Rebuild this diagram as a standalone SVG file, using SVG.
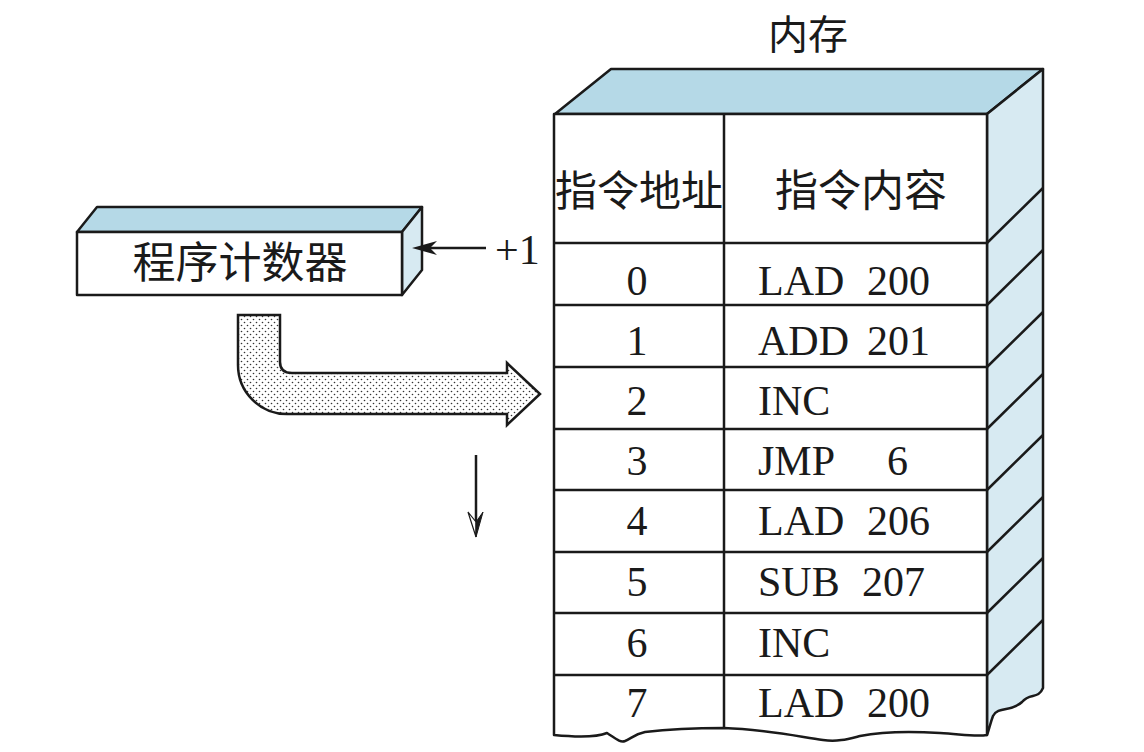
<svg xmlns="http://www.w3.org/2000/svg" width="1144" height="752" viewBox="0 0 1144 752">
<style>
.ln{stroke:#1a1a1a;stroke-width:2.5;fill:none;stroke-linejoin:round}
.top{fill:#b5d9e7;stroke:#1a1a1a;stroke-width:2.5;stroke-linejoin:round}
.side{fill:#d7eaf2;stroke:#1a1a1a;stroke-width:2.5;stroke-linejoin:round}
.front{fill:#fff;stroke:#1a1a1a;stroke-width:2.5;stroke-linejoin:round}
.cjk{font-family:"Noto Sans CJK SC","Noto Sans",sans-serif;fill:#1a1a1a}
.rom{font-family:"Liberation Serif","Times New Roman",serif;font-size:42px;fill:#1a1a1a}
.num{text-anchor:middle}
</style>
<defs>
<pattern id="dots" width="6" height="6" patternUnits="userSpaceOnUse">
<rect width="6" height="6" fill="#fff"/>
<circle cx="1.5" cy="1.5" r="0.8" fill="#333"/>
<circle cx="4.5" cy="4.5" r="0.8" fill="#333"/>
</pattern>
</defs>
<rect width="1144" height="752" fill="#fff"/>

<g id="pc">
<polygon class="top" points="77,232 97,207 422,207 402,232"/>
<polygon class="side" points="402,232 422,207 422,270 402,295"/>
<rect class="front" x="77" y="232" width="325" height="63"/>
<text class="cjk" x="240" y="278" font-size="43" text-anchor="middle">程序计数器</text>
</g>

<g id="memory">
<text class="cjk" x="808" y="49" font-size="40" text-anchor="middle">内存</text>
<polygon class="top" points="555,114 611,69 1043,69 987,114"/>
<path class="side" d="M987,114 L1043,69 L1043,688 C1038,700 1030,692 1022,702 C1012,712 998,706 993,716 C990,724 989,730 987,735 Z"/>
<path class="front" d="M554,114 L987,114 L987,735 C975,737 960,734 940,733 C910,731 880,732 860,736 C848,739 838,742 823,740 C790,735 760,729 724,728 C700,728 670,729 645,732 C635,734 632,738 625,741 C620,743 615,738 607,733 C595,738 575,737 554,735 Z"/>
<g class="ln">
<line x1="724" y1="114" x2="724" y2="728"/>
<path d="M554,243 H987 L1043,188 M554,305 H987 L1043,250 M554,367 H987 L1043,312 M554,429 H987 L1043,374 M554,490 H987 L1043,435 M554,552 H987 L1043,497 M554,613 H987 L1043,558 M554,675 H987 L1043,620"/>
</g>
<text class="cjk" x="639" y="206" font-size="42" text-anchor="middle">指令地址</text>
<text class="cjk" x="861" y="206" font-size="43" text-anchor="middle">指令内容</text>
<g class="rom num">
<text x="637" y="295">0</text>
<text x="637" y="355">1</text>
<text x="637" y="415">2</text>
<text x="637" y="475">3</text>
<text x="637" y="535">4</text>
<text x="637" y="596">5</text>
<text x="637" y="657">6</text>
<text x="637" y="717">7</text>
</g>
<g class="rom">
<text x="758" y="295">LAD</text><text x="867" y="295">200</text>
<text x="758" y="355">ADD</text><text x="867" y="355">201</text>
<text x="758" y="415">INC</text>
<text x="758" y="475">JMP</text><text x="887" y="475">6</text>
<text x="758" y="535">LAD</text><text x="867" y="535">206</text>
<text x="758" y="596">SUB</text><text x="862" y="596">207</text>
<text x="758" y="657">INC</text>
<text x="758" y="717">LAD</text><text x="867" y="717">200</text>
</g>
</g>

<g id="connectors">
<line class="ln" x1="428" y1="248" x2="486" y2="248" stroke-width="2"/>
<path d="M412,248 L437,241 L430,248 L437,255 Z" fill="#1a1a1a"/>
<text class="rom" x="495" y="264" font-size="42">+1</text>
<path d="M238,315 L280,315 L280,362 Q280,373 292,373 L507,373 L507,363 L540,394 L507,425 L507,414 L287,414 A49,49 0 0 1 238,365 Z" fill="url(#dots)" stroke="#1a1a1a" stroke-width="2.5" stroke-linejoin="miter"/>
<line class="ln" x1="476" y1="455" x2="476" y2="525" stroke-width="2"/>
<path d="M476,537 L468,512 L476,522 Z" fill="#fff" stroke="#1a1a1a" stroke-width="1.2"/>
<path d="M476,537 L483,512 L476,522 Z" fill="#1a1a1a" stroke="#1a1a1a" stroke-width="1"/>
</g>
</svg>
